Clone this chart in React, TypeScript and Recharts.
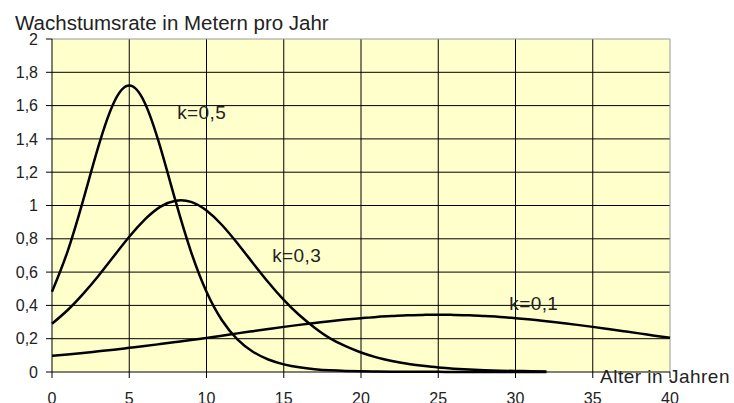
import React from 'react';
import { LineChart, Line, XAxis, YAxis, CartesianGrid, ReferenceLine, ReferenceDot } from 'recharts';

const years = [
  0, 1, 2, 3, 4, 5, 6, 7, 8, 9, 10, 11, 12, 13, 14, 15, 16, 17, 18, 19, 20,
  21, 22, 23, 24, 25, 26, 27, 28, 29, 30, 31, 32, 33, 34, 35, 36, 37, 38, 39, 40,
];

// k=0,5
const rateK05 = [
  0.482, 0.722, 1.026, 1.353, 1.617, 1.72, 1.617, 1.353, 1.026, 0.722, 0.482,
  0.311, 0.196, 0.122, 0.075, 0.046, 0.028, 0.017, 0.01, 0.006, 0.004,
  0.003, 0.002, 0.001, 0.001, 0.001, 0, 0, 0, 0, 0, 0, 0,
];

// k=0,3
const rateK03 = [
  0.29, 0.371, 0.468, 0.577, 0.695, 0.812, 0.915, 0.992, 1.029, 1.022, 0.97,
  0.883, 0.773, 0.655, 0.539, 0.433, 0.342, 0.266, 0.202, 0.155, 0.117,
  0.088, 0.066, 0.049, 0.037, 0.027, 0.02, 0.015, 0.011, 0.008, 0.006, 0.005, 0.003,
];

// k=0,1
const rateK01 = [
  0.097, 0.105, 0.114, 0.124, 0.134, 0.145, 0.156, 0.168, 0.18, 0.192, 0.205,
  0.218, 0.232, 0.245, 0.258, 0.271, 0.283, 0.294, 0.305, 0.315, 0.323,
  0.331, 0.336, 0.341, 0.343, 0.344, 0.343, 0.341, 0.336, 0.331, 0.323,
  0.315, 0.305, 0.294, 0.283, 0.271, 0.258, 0.245, 0.232, 0.218, 0.205,
];

const xTicks = [0, 5, 10, 15, 20, 25, 30, 35, 40];
const yTicks = [0, 0.2, 0.4, 0.6, 0.8, 1, 1.2, 1.4, 1.6, 1.8, 2];

const title = 'Wachstumsrate in Metern pro Jahr';
const xTitle = 'Alter in Jahren';

const curveLabels = [
  { text: 'k=0,5', x: 8.1, y: 1.52 },
  { text: 'k=0,3', x: 14.25, y: 0.66 },
  { text: 'k=0,1', x: 29.6, y: 0.37 },
];

const data = years.map((year, i) => ({
  year,
  k05: rateK05[i],
  k03: rateK03[i],
  k01: rateK01[i],
}));

const FONT = '"Liberation Sans", Arial, sans-serif';
const TEXT = '#222222';

const fmt = (v: number) => String(Math.round(v * 10) / 10).replace('.', ',');

const TextAt = ({ viewBox, text, dx = 0, dy = 0, size = 19, spacing = 0 }: any) => {
  if (!viewBox) return null;
  return (
    <text
      x={viewBox.x + dx}
      y={viewBox.y + dy}
      fill={TEXT}
      fontFamily={FONT}
      fontSize={size}
      letterSpacing={spacing}
      textAnchor="start"
    >
      {text}
    </text>
  );
};

export default function App() {
  return (
    <div style={{ position: 'absolute', left: 0, top: 0, background: '#fff' }}>
      <LineChart
        width={734}
        height={403}
        data={data}
        margin={{ top: 39, right: 64, bottom: 6, left: 0 }}
      >
        <CartesianGrid
          fill="#FFFFCC"
          fillOpacity={1}
          stroke="#000"
          strokeWidth={1}
          horizontalValues={yTicks.filter((t) => t > 0 && t < 2)}
          verticalValues={xTicks.filter((t) => t > 0 && t < 40)}
        />
        <XAxis
          dataKey="year"
          type="number"
          domain={[0, 40]}
          ticks={xTicks}
          interval={0}
          height={25}
          tickSize={6}
          tickMargin={15}
          axisLine={{ stroke: '#000' }}
          tickLine={{ stroke: '#000' }}
          tick={{ fill: TEXT, fontSize: 16, fontFamily: FONT }}
        />
        <YAxis
          type="number"
          domain={[0, 2]}
          ticks={yTicks}
          interval={0}
          width={52}
          tickSize={6}
          tickMargin={8}
          tickFormatter={fmt}
          axisLine={{ stroke: '#000' }}
          tickLine={{ stroke: '#000' }}
          tick={{ fill: TEXT, fontSize: 16, fontFamily: FONT }}
        />
        <ReferenceLine y={2} stroke="#999" strokeWidth={1} />
        <ReferenceLine x={40} stroke="#999" strokeWidth={1} />

        <Line type="natural" dataKey="k01" stroke="#000" strokeWidth={2.5} dot={false} activeDot={false} isAnimationActive={false} />
        <Line type="natural" dataKey="k03" stroke="#000" strokeWidth={2.5} dot={false} activeDot={false} isAnimationActive={false} />
        <Line type="natural" dataKey="k05" stroke="#000" strokeWidth={2.5} dot={false} activeDot={false} isAnimationActive={false} />

        {curveLabels.map((l) => (
          <ReferenceDot
            key={l.text}
            x={l.x}
            y={l.y}
            r={0}
            ifOverflow="visible"
            label={(props: any) => <TextAt {...props} text={l.text} spacing={0.4} />}
          />
        ))}
        <ReferenceDot
          x={0}
          y={2}
          r={0}
          ifOverflow="visible"
          label={(props: any) => <TextAt {...props} text={title} dx={-37} dy={-9} size={20.5} />}
        />
        <ReferenceDot
          x={35.47}
          y={0}
          r={0}
          ifOverflow="visible"
          label={(props: any) => <TextAt {...props} text={xTitle} dy={11} size={19} spacing={0.5} />}
        />
      </LineChart>
    </div>
  );
}
